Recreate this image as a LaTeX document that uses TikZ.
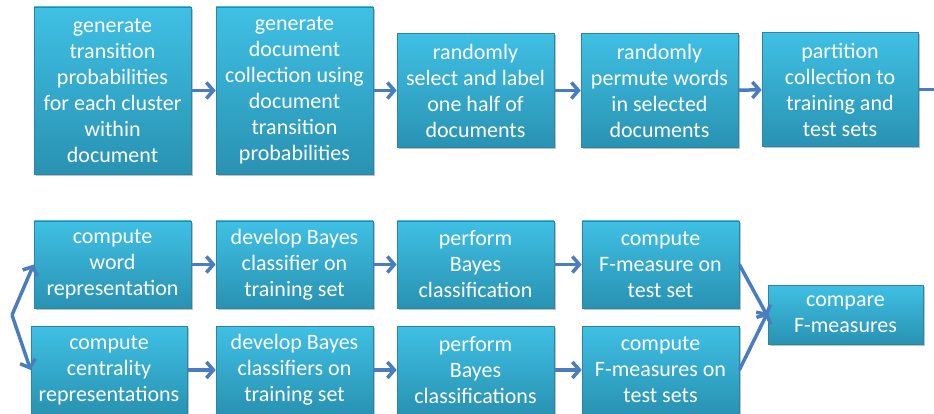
\documentclass[tikz,border=0pt]{standalone}
\usepackage{fontspec}
\setmainfont{Carlito}
\usetikzlibrary{arrows.meta,shadows}
\definecolor{boxtop}{HTML}{3FC0E4}
\definecolor{boxbot}{HTML}{2992B2}
\definecolor{boxedge}{HTML}{2688A6}
\definecolor{arr}{HTML}{4A7DC0}
\tikzset{
  bx/.style={rectangle, inner sep=0pt, top color=boxtop, bottom color=boxbot,
    draw=boxedge, line width=0.6pt, text=white, align=center,
    font=\fontsize{22pt}{26pt}\selectfont,
    drop shadow={shadow xshift=1.5pt, shadow yshift=-2pt, opacity=0.35, fill=black!70}},
  ar/.style={draw=arr, line width=3.5pt, -{Straight Barb[length=7pt,width=16pt]}},
}
\begin{document}
\begin{tikzpicture}[x=1pt,y=-1pt]
\useasboundingbox (0,0) rectangle (934,414);
\clip (0,0) rectangle (934,414);
% top row
\node[bx, minimum width=157pt, minimum height=167pt] (t1) at (112.5,90.5) {generate\\transition\\probabilities\\for each cluster\\within\\document};
\node[bx, minimum width=157pt, minimum height=167pt] (t2) at (294.5,90.5) {generate\\document\\collection using\\document\\transition\\probabilities};
\node[bx, minimum width=157pt, minimum height=114pt] (t3) at (475.5,90.5) {randomly\\select and label\\one half of\\documents};
\node[bx, minimum width=157pt, minimum height=114pt] (t4) at (659.5,90.5) {randomly\\permute words\\in selected\\documents};
\node[bx, minimum width=156pt, minimum height=114pt] (t5) at (840,89.5) {partition\\collection to\\training and\\test sets};
\coordinate (tout) at (948,89.5);
\draw[ar] (t1) -- (t2);
\draw[ar] (t2) -- (t3);
\draw[ar] (t3) -- (t4);
\draw[ar] (t4) -- (t5);
\draw[ar] (t5) -- (tout);
% bottom rows
\node[bx, minimum width=157pt, minimum height=87pt] (a1) at (112.5,264.5) {compute\\word\\representation};
\node[bx, minimum width=157pt, minimum height=87pt] (a2) at (294.5,264.5) {develop Bayes\\classifier on\\training set};
\node[bx, minimum width=157pt, minimum height=87pt] (a3) at (475.5,264.5) {perform\\Bayes\\classification};
\node[bx, minimum width=157pt, minimum height=87pt] (a4) at (660.5,264.5) {compute\\F-measure on\\test set};
\node[bx, minimum width=156pt, minimum height=88pt] (b1) at (109,370) {compute\\centrality\\representations};
\node[bx, minimum width=157pt, minimum height=88pt] (b2) at (294.5,370) {develop Bayes\\classifiers on\\training set};
\node[bx, minimum width=157pt, minimum height=88pt] (b3) at (475.5,370) {perform\\Bayes\\classifications};
\node[bx, minimum width=157pt, minimum height=88pt] (b4) at (660.5,370) {compute\\F-measures on\\test sets};
\node[bx, minimum width=155pt, minimum height=59pt] (cmp) at (845.5,314.5) {compare\\F-measures};
\coordinate (split) at (12,315);
\draw[ar] (split) -- (a1.west);
\draw[ar] (split) -- (b1.west);
\draw[ar] (a1) -- (a2);
\draw[ar] (a2) -- (a3);
\draw[ar] (a3) -- (a4);
\draw[ar] (b1.east |- b2.west) -- (b2.west);
\draw[ar] (b2) -- (b3);
\draw[ar] (b3) -- (b4);
\draw[ar] (a4.east) -- ([yshift=-2pt]cmp.west);
\draw[ar] (b4.east) -- ([yshift=2pt]cmp.west);
\end{tikzpicture}
\end{document}
